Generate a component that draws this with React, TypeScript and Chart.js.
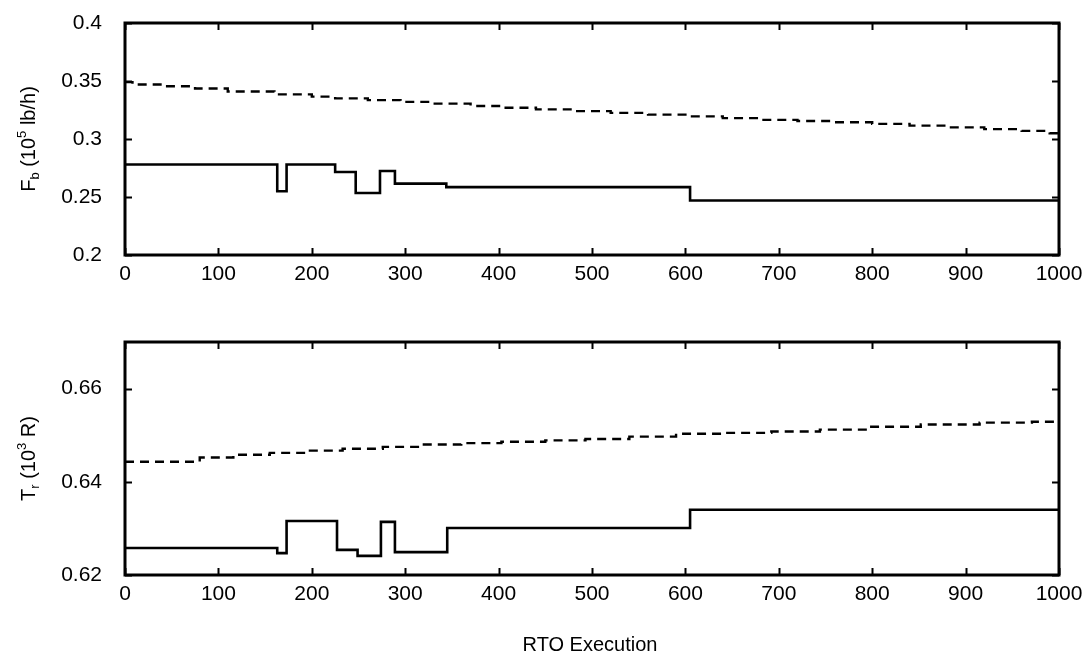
import React, { useEffect, useRef } from "react";
import { Chart, registerables } from "chart.js";
Chart.register(...registerables);

// ---- Data ----
const xMin = 0;
const xMax = 1000;
const xStep = 100;

// Upper plot: F_b (10^5 lb/h)
const fbSolidX = [0, 163, 173, 225, 247, 273, 289, 344, 605, 1000];
const fbSolidY = [0.278, 0.255, 0.278, 0.2716, 0.2534, 0.2724, 0.2615, 0.2585, 0.247, 0.247];
const fbDashX = [0, 8, 40, 75, 110, 160, 200, 225, 260, 295, 330, 370, 403, 440, 480, 520, 560, 600, 640, 680, 720, 760, 800, 840, 880, 920, 960, 990, 1000];
const fbDashY = [0.349, 0.347, 0.3455, 0.3435, 0.341, 0.3385, 0.3365, 0.335, 0.3335, 0.332, 0.3305, 0.3285, 0.327, 0.3255, 0.324, 0.3225, 0.321, 0.3195, 0.318, 0.3165, 0.3155, 0.3145, 0.313, 0.3115, 0.31, 0.3085, 0.307, 0.305, 0.304];
const fbTicks = { min: 0.2, max: 0.4, step: 0.05 };

// Lower plot: T_r (10^3 R)
const trSolidX = [0, 163, 173, 227, 249, 274, 289, 345, 605, 1000];
const trSolidY = [0.6258, 0.6247, 0.6316, 0.6254, 0.6241, 0.6314, 0.6249, 0.6301, 0.634, 0.634];
const trDashX = [0, 80, 116, 155, 198, 233, 276, 320, 360, 403, 450, 493, 540, 590, 640, 692, 744, 796, 852, 915, 971, 1000];
const trDashY = [0.6443, 0.6452, 0.6458, 0.6462, 0.6467, 0.6471, 0.6475, 0.648, 0.6483, 0.6486, 0.6489, 0.6492, 0.6497, 0.6503, 0.6505, 0.6508, 0.6512, 0.6518, 0.6523, 0.6527, 0.6529, 0.653];
const trTicks = { min: 0.62, max: 0.67, step: 0.02 };

const xTitle = "RTO Execution";
type Seg = { t: string; k?: "sub" | "sup" };
const fbTitle: Seg[] = [{ t: "F" }, { t: "b", k: "sub" }, { t: " (10" }, { t: "5", k: "sup" }, { t: " lb/h)" }];
const trTitle: Seg[] = [{ t: "T" }, { t: "r", k: "sub" }, { t: " (10" }, { t: "3", k: "sup" }, { t: " R)" }];

const FONT = "'Liberation Sans', Arial, sans-serif";
const TICK_SIZE = 21;

function pts(xs: number[], ys: number[]) {
  return xs.map((x, i) => ({ x, y: ys[i] }));
}

function drawRich(ctx: CanvasRenderingContext2D, segs: Seg[], cx: number, cy: number, rotate: boolean, size: number) {
  ctx.save();
  ctx.translate(cx, cy);
  if (rotate) ctx.rotate(-Math.PI / 2);
  const fontOf = (s: Seg) => `${s.k ? Math.round(size * 0.65) : size}px ${FONT}`;
  let total = 0;
  for (const s of segs) {
    ctx.font = fontOf(s);
    total += ctx.measureText(s.t).width;
  }
  let x = -total / 2;
  ctx.textBaseline = "middle";
  ctx.textAlign = "left";
  ctx.fillStyle = "#000";
  for (const s of segs) {
    ctx.font = fontOf(s);
    const dy = s.k === "sub" ? size * 0.3 : s.k === "sup" ? -size * 0.35 : 0;
    ctx.fillText(s.t, x, dy);
    x += ctx.measureText(s.t).width;
  }
  ctx.restore();
}

const framePlugin = {
  id: "frameTicks",
  afterDraw(chart: any, _args: any, opts: any) {
    const { ctx, chartArea: a, scales } = chart;
    const L = 7;
    ctx.save();
    ctx.setLineDash([]);
    ctx.strokeStyle = "#000";
    ctx.lineWidth = 2;
    ctx.beginPath();
    for (const t of scales.x.ticks) {
      const px = Math.round(scales.x.getPixelForValue(t.value)) + 0.5;
      ctx.moveTo(px, a.bottom);
      ctx.lineTo(px, a.bottom - L);
      ctx.moveTo(px, a.top);
      ctx.lineTo(px, a.top + L);
    }
    for (const t of scales.y.ticks) {
      const py = Math.round(scales.y.getPixelForValue(t.value)) + 0.5;
      ctx.moveTo(a.left, py);
      ctx.lineTo(a.left + L, py);
      ctx.moveTo(a.right, py);
      ctx.lineTo(a.right - L, py);
    }
    ctx.stroke();
    ctx.lineWidth = 3;
    ctx.strokeRect(a.left, a.top, a.right - a.left, a.bottom - a.top);
    ctx.restore();
    if (opts && opts.yTitle) {
      drawRich(ctx, opts.yTitle, opts.yTitleX, (a.top + a.bottom) / 2, true, 20);
    }
    if (opts && opts.xTitle) {
      ctx.save();
      ctx.font = `20px ${FONT}`;
      ctx.fillStyle = "#000";
      ctx.textAlign = "center";
      ctx.textBaseline = "middle";
      ctx.fillText(opts.xTitle, opts.xTitleX, opts.xTitleY);
      ctx.restore();
    }
  },
};

function zeroPad(s: any) {
  s.paddingTop = 0;
  s.paddingBottom = 0;
  s.paddingLeft = 0;
  s.paddingRight = 0;
}

type PanelProps = {
  top: number;
  height: number;
  padTop: number;
  padBottom: number;
  solid: { x: number; y: number }[];
  dash: { x: number; y: number }[];
  yr: { min: number; max: number; step: number };
  yTitle: Seg[];
  xTitleText?: string;
};

function Panel(p: PanelProps) {
  const ref = useRef<HTMLCanvasElement | null>(null);
  useEffect(() => {
    if (!ref.current) return;
    const chart = new Chart(ref.current, {
      type: "line",
      data: {
        datasets: [
          {
            data: p.dash,
            borderColor: "#000",
            borderWidth: 2.4,
            borderDash: [9, 6],
            borderCapStyle: "butt",
            pointRadius: 0,
            stepped: "before",
            fill: false,
          },
          {
            data: p.solid,
            borderColor: "#000",
            borderWidth: 2.6,
            pointRadius: 0,
            stepped: "before",
            fill: false,
          },
        ],
      },
      options: {
        responsive: false,
        animation: false,
        events: [],
        layout: { padding: { left: 0, right: 24, top: p.padTop, bottom: p.padBottom } },
        plugins: {
          legend: { display: false },
          tooltip: { enabled: false },
          frameTicks: {
            yTitle: p.yTitle,
            yTitleX: 29,
            xTitle: p.xTitleText,
            xTitleX: 590,
            xTitleY: 345,
          },
        } as any,
        scales: {
          x: {
            type: "linear",
            min: xMin,
            max: xMax,
            grid: { display: false, drawTicks: false, tickLength: 0 },
            border: { display: false },
            ticks: {
              stepSize: xStep,
              padding: 7,
              color: "#000",
              font: { family: FONT, size: TICK_SIZE },
              maxRotation: 0,
              callback: (v: any) => String(v),
            },
            afterFit: (s: any) => {
              s.height = 40;
              zeroPad(s);
            },
          },
          y: {
            type: "linear",
            min: p.yr.min,
            max: p.yr.max,
            grid: { display: false, drawTicks: false, tickLength: 0 },
            border: { display: false },
            ticks: {
              stepSize: p.yr.step,
              includeBounds: false,
              padding: 23,
              color: "#000",
              font: { family: FONT, size: TICK_SIZE },
              callback: (v: any) => String(parseFloat(Number(v).toFixed(3))),
            },
            afterFit: (s: any) => {
              s.width = 125;
              zeroPad(s);
            },
          },
        },
      },
      plugins: [framePlugin],
    });
    return () => chart.destroy();
  }, []);
  return (
    <canvas
      ref={ref}
      width={1083}
      height={p.height}
      style={{ position: "absolute", left: 0, top: p.top, width: 1083, height: p.height }}
    />
  );
}

export default function App() {
  return (
    <div style={{ position: "absolute", left: 0, top: 0, width: 1083, height: 658, background: "#fff" }}>
      <Panel
        top={0}
        height={300}
        padTop={23}
        padBottom={5}
        solid={pts(fbSolidX, fbSolidY)}
        dash={pts(fbDashX, fbDashY)}
        yr={fbTicks}
        yTitle={fbTitle}
      />
      <Panel
        top={300}
        height={358}
        padTop={42}
        padBottom={43}
        solid={pts(trSolidX, trSolidY)}
        dash={pts(trDashX, trDashY)}
        yr={trTicks}
        yTitle={trTitle}
        xTitleText={xTitle}
      />
    </div>
  );
}
